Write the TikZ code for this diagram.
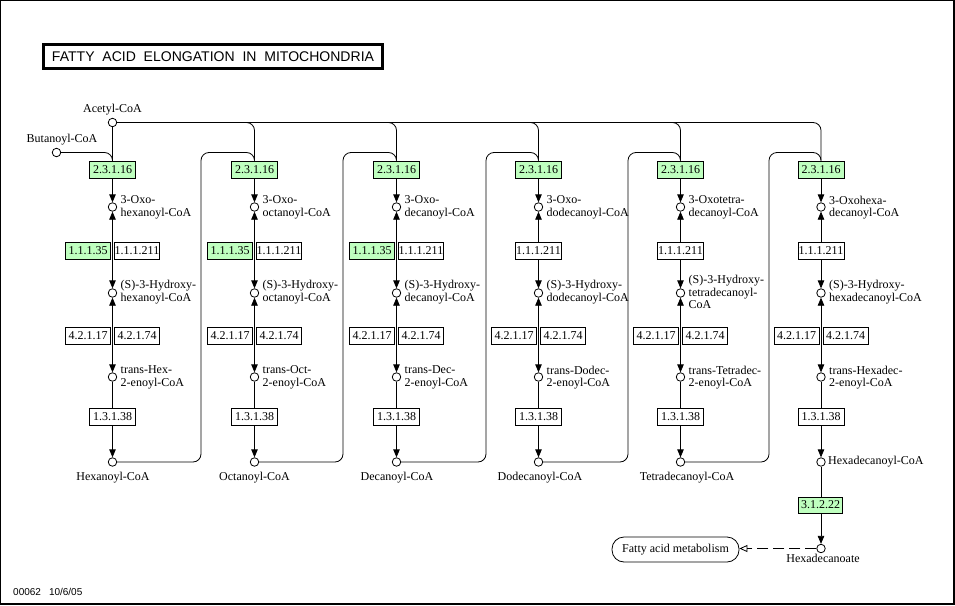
\documentclass[tikz,border=0pt]{standalone}
\usepackage{fontspec}
\usepackage{graphicx}
\setmainfont{Liberation Serif}
\newfontfamily\titlefont{Liberation Sans}
\newfontfamily\footfont{Liberation Sans}
\usetikzlibrary{arrows.meta,backgrounds,calc}
\definecolor{keggreen}{RGB}{191,255,191}
\tikzset{
  cpd/.style={circle,draw,fill=white,minimum size=8.5pt,inner sep=0pt,line width=0.8pt},
  enz/.style={draw,fill=white,minimum width=46pt,minimum height=17pt,inner sep=0pt,line width=0.8pt,font=\fontsize{12}{12}\selectfont},
  genz/.style={enz,fill=keggreen},
  lbl/.style={inner sep=0pt,anchor=west,align=left,font=\fontsize{12}{12.5}\selectfont},
  blbl/.style={inner sep=0pt,anchor=base,font=\fontsize{12}{12.5}\selectfont},
  conn/.style={line width=0.8pt},
  fwd/.style={conn,-{Triangle[length=8pt,width=6.5pt]}},
  rev/.style={conn,{Triangle[length=8pt,width=6.5pt]}-{Triangle[length=8pt,width=6.5pt]}},
  openarr/.style={conn,dash pattern=on 11pt off 5pt,-{Triangle[open,length=8pt,width=7pt]}},
}
\begin{document}
\begin{tikzpicture}[x=1pt,y=-1pt]
\path[use as bounding box] (0,0) rectangle (955,605);
\draw[line width=1pt] (0.5,0.5) rectangle (953,603.5);
\draw[line width=2pt] (953.5,0) -- (953.5,604) -- (0,604);

% title
\node[draw,line width=3pt,minimum width=339pt,minimum height=24pt,inner sep=0pt] (title) at (213,56.5)
  {\resizebox{322pt}{!}{\titlefont\fontsize{14}{14}\selectfont FATTY\ \ ACID\ \ ELONGATION\ \ IN\ \ MITOCHONDRIA}};

% footer
\node[anchor=base west,inner sep=0pt,font=\footfont\fontsize{10}{10}\selectfont] (footer) at (13,595.5) {00062\hspace{8pt}10/6/05};

% start compounds
\node[cpd] (acetyl) at (112.5,122.5) {};
\node[blbl] (acetylL) at (112.5,112) {Acetyl-CoA};
\node[cpd] (butanoyl) at (56.5,152.5) {};
\node[blbl] (butanoylL) at (62,142) {Butanoyl-CoA};

% columns
\foreach \i/\x in {1/112.5,2/254.5,3/396.5,4/538.5,5/680.5,6/821} {
  \node[genz] (ea\i) at (\x,169.5) {2.3.1.16};
  \node[cpd] (oxo\i) at (\x,207) {};
  \node[cpd] (hyd\i) at (\x,293) {};
  \node[cpd] (trn\i) at (\x,377) {};
  \node[enz] (ed\i) at (\x,416.5) {1.3.1.38};
  \node[cpd] (acyl\i) at (\x,462) {};
  \node[enz,minimum width=45pt] (ecl\i) at (\x-24.5,335.5) {4.2.1.17};
  \node[enz,minimum width=45pt] (ecr\i) at (\x+24.5,335.5) {4.2.1.74};
}
\foreach \i/\x in {1/112.5,2/254.5,3/396.5} {
  \node[genz,minimum width=45pt] (ebl\i) at (\x-24.5,250.5) {1.1.1.35};
  \node[enz,minimum width=45pt] (ebr\i) at (\x+24.5,250.5) {1.1.1.211};
}
\foreach \i/\x in {4/538.5,5/680.5,6/821} {
  \node[enz] (eb\i) at (\x,250.5) {1.1.1.211};
}

% labels
\foreach \i/\x/\lo/\lh/\lt in {
  1/112.5/{3-Oxo-\\hexanoyl-CoA}/{(S)-3-Hydroxy-\\hexanoyl-CoA}/{trans-Hex-\\2-enoyl-CoA},
  2/254.5/{3-Oxo-\\octanoyl-CoA}/{(S)-3-Hydroxy-\\octanoyl-CoA}/{trans-Oct-\\2-enoyl-CoA},
  3/396.5/{3-Oxo-\\decanoyl-CoA}/{(S)-3-Hydroxy-\\decanoyl-CoA}/{trans-Dec-\\2-enoyl-CoA},
  4/538.5/{3-Oxo-\\dodecanoyl-CoA}/{(S)-3-Hydroxy-\\dodecanoyl-CoA}/{trans-Dodec-\\2-enoyl-CoA},
  5/680.5/{3-Oxotetra-\\decanoyl-CoA}/{(S)-3-Hydroxy-\\tetradecanoyl-\\CoA}/{trans-Tetradec-\\2-enoyl-CoA},
  6/821/{3-Oxohexa-\\decanoyl-CoA}/{(S)-3-Hydroxy-\\hexadecanoyl-CoA}/{trans-Hexadec-\\2-enoyl-CoA}} {
  \node[lbl] (oxoL\i) at (\x+8,207.5) {\lo};
  \node[lbl] (hydL\i) at (\x+8,292) {\lh};
  \node[lbl] (trnL\i) at (\x+8,377.5) {\lt};
}
\node[blbl] (acylL1) at (113,480) {Hexanoyl-CoA};
\node[blbl] (acylL2) at (254.5,480) {Octanoyl-CoA};
\node[blbl] (acylL3) at (397,480) {Decanoyl-CoA};
\node[blbl] (acylL4) at (540,480) {Dodecanoyl-CoA};
\node[blbl] (acylL5) at (687,480) {Tetradecanoyl-CoA};
\node[lbl] (acylL6) at (828,462) {Hexadecanoyl-CoA};

% end of pathway
\node[genz,minimum width=44pt,minimum height=16pt] (ee) at (820.5,505) {3.1.2.22};
\node[cpd] (hexd) at (821,548.5) {};
\node[blbl] (hexdL) at (823,562) {Hexadecanoate};
\node[draw,line width=0.8pt,rounded corners=12pt,minimum width=127pt,minimum height=25pt,inner sep=0pt,font=\fontsize{12}{12}\selectfont] (fam) at (675.5,549.5) {Fatty acid metabolism};

% connectors
\begin{scope}[on background layer]
  \draw[conn] (acetyl) -- (ea1);
  \draw[conn,rounded corners=8pt] (butanoyl) -| (ea1.north);
  \foreach \i in {2,...,6} {
    \draw[conn,rounded corners=8pt] (acetyl) -| (ea\i.north);
  }
  \foreach \i/\j/\lx in {1/2/201,2/3/343,3/4/486,4/5/628,5/6/769} {
    \coordinate (loop\i) at (\lx,152.5);
    \draw[conn,rounded corners=8pt] (acyl\i) -| (loop\i) -| (ea\j.north);
  }
  \foreach \i in {1,...,6} {
    \draw[fwd] (ea\i) -- (oxo\i);
    \draw[rev] (oxo\i) -- (hyd\i);
    \draw[rev] (hyd\i) -- (trn\i);
    \draw[fwd] (trn\i) -- (acyl\i);
  }
  \draw[fwd] (acyl6) -- (hexd);
  \draw[openarr] (hexd) -- (hexd -| fam.east);
\end{scope}
\end{tikzpicture}
\end{document}
